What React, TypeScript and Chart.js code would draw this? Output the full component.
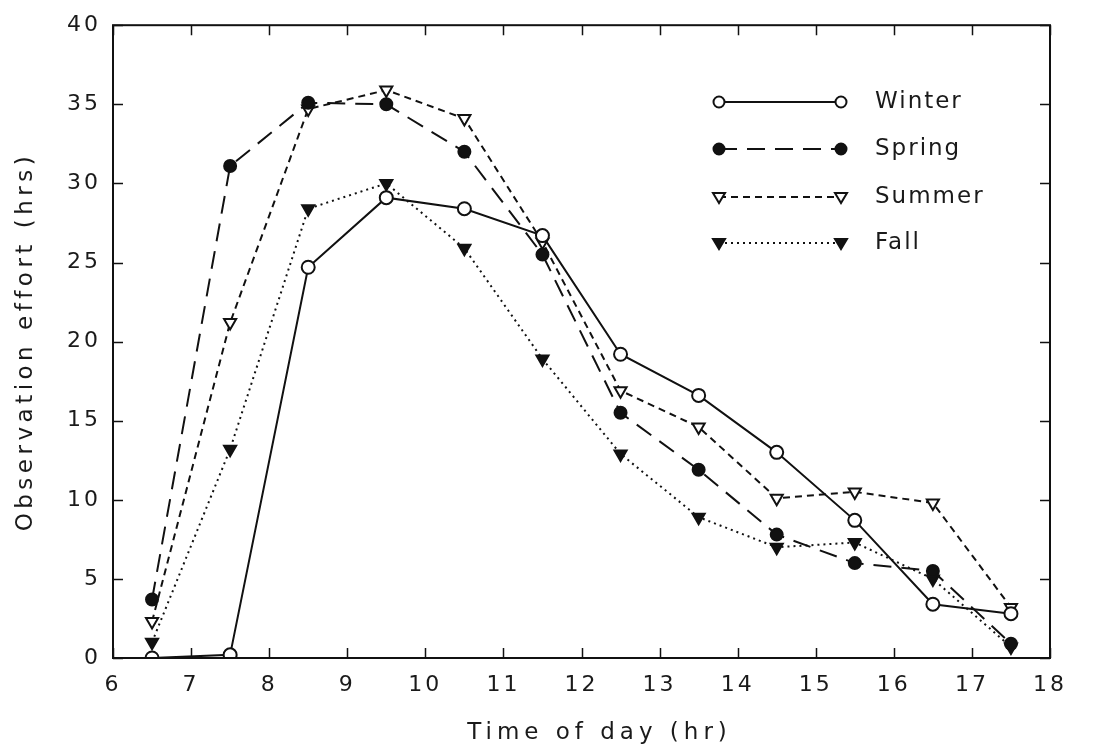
import React, { useEffect, useRef } from "react";
import { Chart, registerables } from "chart.js";

Chart.register(...registerables);

const hours = [6.5, 7.5, 8.5, 9.5, 10.5, 11.5, 12.5, 13.5, 14.5, 15.5, 16.5, 17.5];
const winter = [0, 0.2, 24.7, 29.1, 28.4, 26.7, 19.2, 16.6, 13.0, 8.7, 3.4, 2.8];
const spring = [3.7, 31.1, 35.1, 35.0, 32.0, 25.5, 15.5, 11.9, 7.8, 6.0, 5.5, 0.9];
const summer = [2.3, 21.2, 34.7, 35.9, 34.1, 26.3, 16.9, 14.6, 10.1, 10.5, 9.8, 3.2];
const fall = [1.0, 13.2, 28.4, 30.0, 25.9, 18.9, 12.9, 8.9, 7.0, 7.3, 5.0, 0.7];
const seriesNames = ["Winter", "Spring", "Summer", "Fall"];
const xTicks = [6, 7, 8, 9, 10, 11, 12, 13, 14, 15, 16, 17, 18];
const yTicks = [0, 5, 10, 15, 20, 25, 30, 35, 40];
const xTitle = "Time of day (hr)";
const yTitle = "Observation effort (hrs)";

const FONT = "'DejaVu Sans', sans-serif";
const TEXT = "#1a1a1a";

export default function App() {
  const ref = useRef<HTMLCanvasElement | null>(null);
  useEffect(() => {
    if (!ref.current) return;
    const mk = (vals: number[]) => hours.map((h, i) => ({ x: h, y: vals[i] }));
    const styles = [
      { dash: [], style: "circle", fill: "#fff", rot: 0, r: 6.5 },
      { dash: [18, 10], style: "circle", fill: "#111", rot: 0, r: 6 },
      { dash: [7, 5], style: "triangle", fill: "#fff", rot: 180, r: 7 },
      { dash: [2, 4], style: "triangle", fill: "#111", rot: 180, r: 7 },
    ];
    const allData = [winter, spring, summer, fall];
    const datasets = allData.map((d, i) => ({
      label: seriesNames[i],
      data: mk(d),
      borderColor: "#111",
      borderWidth: 2,
      borderDash: styles[i].dash,
      pointStyle: styles[i].style as any,
      pointRotation: styles[i].rot,
      pointRadius: styles[i].r,
      pointBackgroundColor: styles[i].fill,
      pointBorderColor: "#111",
      pointBorderWidth: 2,
      fill: false,
      tension: 0,
    }));

    const decor = {
      id: "decor",
      beforeDraw(chart: any) {
        (chart.ctx as any).letterSpacing = "3px";
      },
      afterDatasetsDraw(chart: any) {
        const ctx = chart.ctx;
        const a = chart.chartArea;
        const xs = chart.scales.x;
        const ys = chart.scales.y;
        ctx.save();
        ctx.strokeStyle = "#111";
        ctx.lineWidth = 2;
        ctx.setLineDash([]);
        ctx.strokeRect(a.left, a.top, a.right - a.left, a.bottom - a.top);
        ctx.lineWidth = 1.5;
        const tl = 10;
        xTicks.forEach((t) => {
          const px = Math.round(xs.getPixelForValue(t)) + 0.5;
          ctx.beginPath();
          ctx.moveTo(px, a.bottom);
          ctx.lineTo(px, a.bottom - tl);
          ctx.moveTo(px, a.top);
          ctx.lineTo(px, a.top + tl);
          ctx.stroke();
        });
        yTicks.forEach((t) => {
          const py = Math.round(ys.getPixelForValue(t)) + 0.5;
          ctx.beginPath();
          ctx.moveTo(a.left, py);
          ctx.lineTo(a.left + tl, py);
          ctx.moveTo(a.right, py);
          ctx.lineTo(a.right - tl, py);
          ctx.stroke();
        });
        // axis titles
        ctx.fillStyle = TEXT;
        ctx.font = `23px ${FONT}`;
        (ctx as any).letterSpacing = "5px";
        ctx.textAlign = "center";
        ctx.textBaseline = "middle";
        ctx.fillText(xTitle, (a.left + a.right) / 2 + 18, 733);
        ctx.save();
        ctx.translate(26, (a.top + a.bottom) / 2);
        ctx.rotate(-Math.PI / 2);
        (ctx as any).letterSpacing = "4.5px";
        ctx.fillText(yTitle, 0, 0);
        ctx.restore();
        // legend
        const lx0 = 719, lx1 = 841, tx = 875;
        const rows = [102, 149, 197, 243];
        chart.data.datasets.forEach((ds: any, i: number) => {
          const y = rows[i];
          ctx.strokeStyle = "#111";
          ctx.lineWidth = 2;
          ctx.setLineDash(ds.borderDash || []);
          ctx.beginPath();
          ctx.moveTo(lx0, y);
          ctx.lineTo(lx1, y);
          ctx.stroke();
          ctx.setLineDash([]);
          [lx0, lx1].forEach((mx) => {
            ctx.fillStyle = ds.pointBackgroundColor;
            ctx.strokeStyle = "#111";
            ctx.lineWidth = 2;
            ctx.beginPath();
            if (ds.pointStyle === "circle") {
              ctx.arc(mx, y, 5.5, 0, Math.PI * 2);
            } else {
              ctx.moveTo(mx - 6, y - 4);
              ctx.lineTo(mx + 6, y - 4);
              ctx.lineTo(mx, y + 6);
              ctx.closePath();
            }
            ctx.fill();
            ctx.stroke();
          });
          ctx.fillStyle = TEXT;
          ctx.font = `23px ${FONT}`;
          (ctx as any).letterSpacing = "2px";
          ctx.textAlign = "left";
          ctx.textBaseline = "middle";
          ctx.fillText(ds.label, tx, y);
        });
        ctx.restore();
      },
    };

    const chart = new Chart(ref.current, {
      type: "line",
      data: { datasets: datasets as any },
      options: {
        animation: false,
        responsive: false,
        maintainAspectRatio: false,
        layout: { padding: { left: 0, right: 51, top: 22, bottom: 0 } },
        plugins: { legend: { display: false }, tooltip: { enabled: false } },
        scales: {
          x: {
            type: "linear",
            min: 6,
            max: 18,
            afterFit: (s: any) => { s.height = 94; },
            afterBuildTicks: (s: any) => { s.ticks = xTicks.map((v) => ({ value: v })); },
            grid: { display: false, drawTicks: false },
            border: { display: false },
            ticks: { color: TEXT, font: { family: FONT, size: 22 }, padding: 14, maxRotation: 0 },
          },
          y: {
            min: 0,
            max: 40,
            afterFit: (s: any) => { s.width = 113; },
            afterBuildTicks: (s: any) => { s.ticks = yTicks.map((v) => ({ value: v })); },
            grid: { display: false, drawTicks: false },
            border: { display: false },
            ticks: { color: TEXT, font: { family: FONT, size: 22 }, padding: 12 },
          },
        },
      },
      plugins: [decor],
    });
    return () => chart.destroy();
  }, []);
  return (
    <div style={{ position: "absolute", left: 0, top: 0, width: 1101, height: 752, background: "#fff" }}>
      <canvas ref={ref} width={1101} height={752} style={{ width: 1101, height: 752 }} />
    </div>
  );
}
